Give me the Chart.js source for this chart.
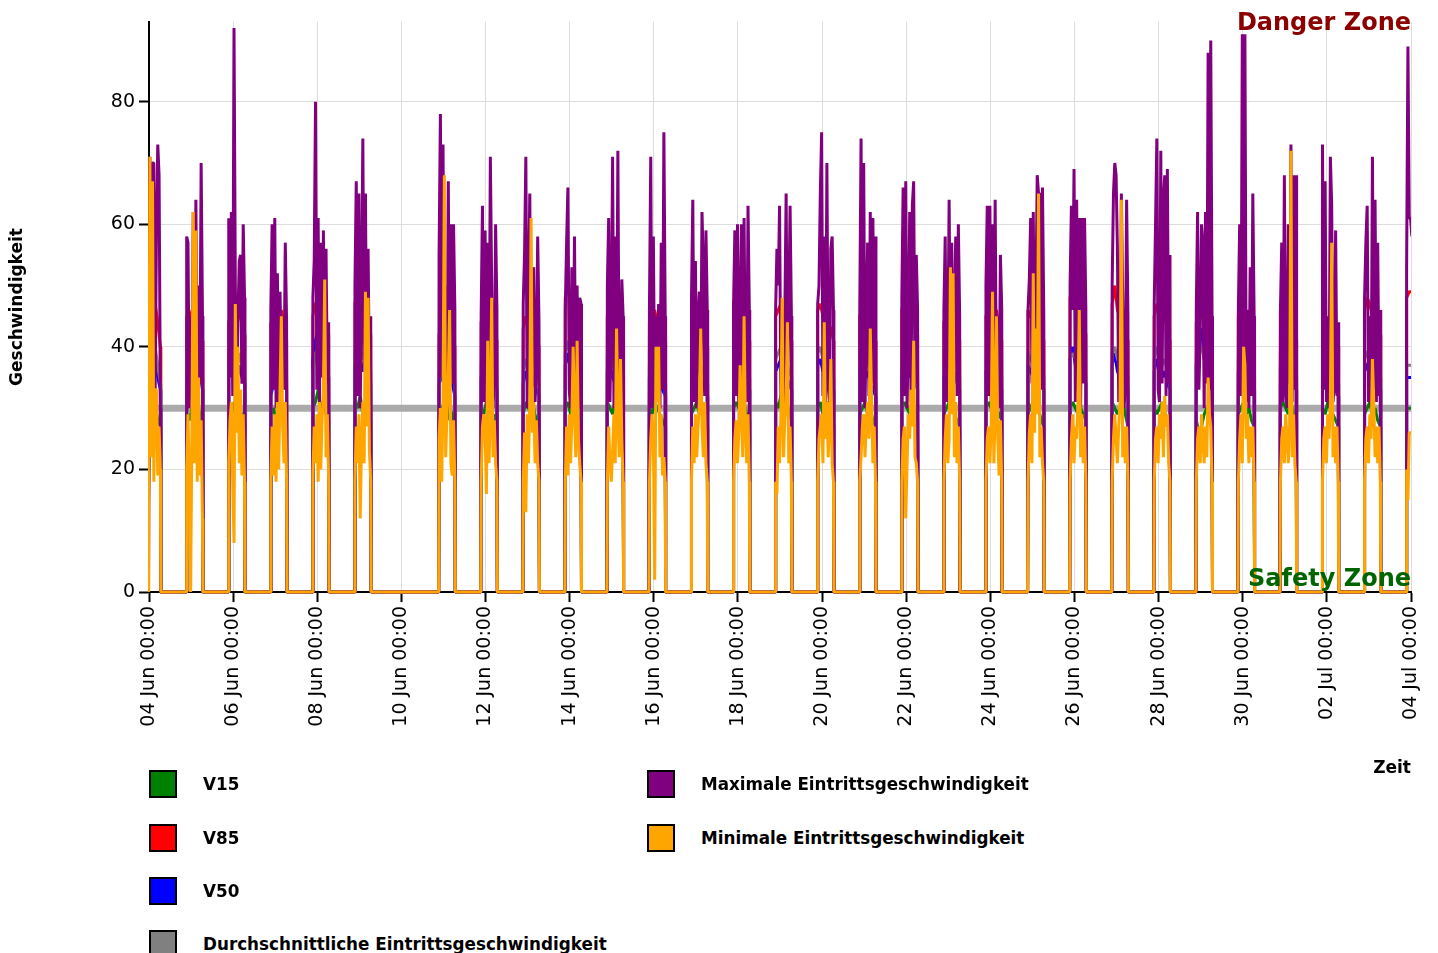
<!DOCTYPE html>
<html>
<head>
<meta charset="utf-8">
<script src="https://cdn.jsdelivr.net/npm/chart.js@4.4.1/dist/chart.umd.min.js"></script>
<style>
  html, body { margin: 0; padding: 0; background: #fff; overflow: hidden; }
  #wrap { position: relative; width: 1438px; height: 953px; }
  canvas { display: block; }
  .lg { position: absolute; display: flex; align-items: center; font: bold 16.8px "DejaVu Sans", sans-serif; color: #000; }
  .lg .sw { width: 28px; height: 28px; box-sizing: border-box; border: 2.5px solid #000; margin-right: 26px; flex: none; }
</style>
</head>
<body>
<div id="wrap">
  <canvas id="c" width="1438" height="782"></canvas>
  <div id="legend"></div>
</div>
<script>
// ---- data (hours since 04 Jun 00:00) ----
const tickLabels = ['04 Jun 00:00','06 Jun 00:00','08 Jun 00:00','10 Jun 00:00','12 Jun 00:00','14 Jun 00:00',
  '16 Jun 00:00','18 Jun 00:00','20 Jun 00:00','22 Jun 00:00','24 Jun 00:00','26 Jun 00:00','28 Jun 00:00',
  '30 Jun 00:00','02 Jul 00:00','04 Jul 00:00'];
const seriesNames = ['V15','V85','V50','Durchschnittliche Eintrittsgeschwindigkeit',
  'Maximale Eintrittsgeschwindigkeit','Minimale Eintrittsgeschwindigkeit'];
const seriesColors = ['#008000','#ff0000','#0000ff','#808080','#800080','#ffa500'];
const thresholdValue = 30;
const zoneLabels = { danger: 'Danger Zone', safety: 'Safety Zone' };
const NIGHT_VALUE = 0;
// sampling hours relative to each day's midnight
const slotHours = [-2.5,-1.75,-1.0,-0.25,0.5,1.25,2.0,2.75,3.5,4.25,5.0,5.75,6.5];
const coarseSlotHours = [-2.5,-1.0,0.5,2.0,3.5,5.0,6.5];

const maxValues = [
  [0,0,0,0,71,62,70,70,32,59,73,68,30],
  [58,57,30,45,33,62,36,64,31,50,34,70,45],
  [61,35,62,32,92,50,30,45,54,55,34,60,48],
  [46,60,33,61,30,52,31,49,36,42,33,57,44],
  [48,54,80,33,61,31,57,35,59,30,56,34,44],
  [50,67,32,65,30,48,74,36,65,31,56,33,45],
  null,
  [55,78,35,73,31,50,30,67,33,60,34,60,46],
  [45,63,31,59,30,57,33,71,50,30,35,60,46],
  [47,55,71,30,48,65,32,45,53,31,36,58,44],
  [46,57,66,33,30,53,34,58,31,50,30,48,47],
  [50,61,31,45,71,30,58,34,72,31,36,51,45],
  [46,71,30,58,31,45,32,47,30,57,33,75,45],
  [48,64,31,54,30,45,49,33,62,53,32,59,46],
  [47,59,32,60,30,45,60,33,61,35,31,63,46],
  [46,56,50,63,31,45,30,45,65,32,45,63,45],
  [47,50,65,75,32,58,30,70,34,31,56,58,46],
  [46,74,31,70,30,45,57,32,62,34,61,33,58],
  [48,66,32,67,30,42,62,31,63,67,34,55,46],
  [46,58,31,40,64,33,57,30,45,58,32,60,45],
  [50,63,32,63,30,60,34,64,31,45,30,55,46],
  [46,51,61,34,62,31,48,68,65,65,33,66,45],
  [50,63,46,69,31,64,33,61,30,61,34,61,46],
  [50,65,70,68,56,31,34,65,48,30,33,64,45],
  [47,60,74,33,31,72,34,64,68,32,69,34,55],
  [46,62,33,42,60,57,30,62,34,88,33,90,45],
  [46,60,32,91,33,91,31,46,30,53,32,65,45],
  [46,57,31,68,33,30,60,34,73,31,68,33,68],
  [73,33,67,31,45,30,71,63,31,34,59,32,44],
  [48,57,63,31,45,30,71,33,64,31,57,32,46],
  [53,89,61,61,58]
];
const minValues = [
  [0,0,0,0,71,22,67,18,33,33,19,27,20],
  [20,29,18,0,27,62,21,59,18,35,19,28,12],
  [21,28,31,18,8,47,26,40,21,33,19,29,18],
  [18,27,19,29,18,31,20,33,45,27,21,31,18],
  [19,27,21,29,18,31,20,28,33,51,22,29,18],
  [18,27,21,29,12,24,31,21,49,27,48,23,18],
  null,
  [25,30,18,31,68,22,29,35,46,21,19,28,18],
  [18,27,29,26,16,41,21,29,48,22,28,21,18],
  [18,26,13,29,21,31,61,26,31,21,28,21,18],
  [18,27,19,29,21,28,40,29,22,41,25,21,18],
  [18,27,21,18,23,29,21,43,29,22,38,25,18],
  [18,25,29,25,2,40,31,40,22,29,19,22,18],
  [18,27,21,29,22,27,31,43,27,22,31,21,18],
  [18,25,28,21,26,37,29,22,45,27,21,29,18],
  [18,16,27,21,29,48,22,28,31,44,21,27,18],
  [18,25,27,29,21,44,25,31,22,27,38,21,18],
  [18,22,27,29,22,28,31,25,43,31,21,27,18],
  [18,25,27,12,21,29,25,33,27,41,22,21,18],
  [18,25,29,21,25,53,29,52,22,31,21,27,18],
  [18,25,27,21,27,49,21,29,45,25,19,28,18],
  [18,26,29,21,52,26,43,29,65,22,27,21,18],
  [18,25,29,21,27,25,31,46,22,29,21,27,18],
  [18,25,29,25,21,27,31,64,22,27,21,27,18],
  [18,25,27,21,29,25,31,22,32,27,29,21,18],
  [18,25,27,21,29,25,21,27,22,35,29,27,18],
  [18,25,29,21,40,37,25,29,21,27,22,27,18],
  [18,25,27,21,29,25,21,27,72,22,29,21,18],
  [18,25,27,21,29,25,31,57,22,27,21,27,18],
  [18,25,27,21,29,25,38,31,22,27,21,27,18],
  [20,15,26,26,26]
];
const v15Values = [
  [0,0,30,29,31,28,27],[29,28,30,27,31,29,27],[30,29,31,28,30,29,28],[29,30,28,31,29,30,27],
  [30,31,33,30,31,29,28],[31,30,32,29,31,30,28],null,[29,30,31,28,30,29,27],
  [30,29,31,30,28,29,27],[29,31,30,29,30,28,27],[30,31,29,30,31,29,28],[31,30,29,31,30,28,27],
  [30,29,31,30,29,28,27],[29,30,31,29,30,28,27],[30,31,30,29,31,29,28],[31,30,32,30,29,30,28],
  [30,31,29,30,31,29,27],[29,30,31,29,30,28,27],[30,31,30,29,31,29,28],[29,30,31,30,29,28,27],
  [30,31,30,29,30,29,28],[31,30,29,31,30,28,27],[30,31,30,29,30,29,28],[31,30,29,30,31,29,27],
  [30,29,30,31,29,28,27],[28,26,27,29,30,28,27],[29,30,31,29,30,28,27],[30,31,30,29,31,29,28],
  [30,29,31,30,29,28,27],[29,30,31,29,30,28,27],[30,30,30]
];
const v85Values = [
  [0,0,46,45,47,44,40],[45,43,46,44,47,45,41],[44,46,45,43,46,44,42],[44,43,45,44,46,43,41],
  [45,47,48,45,46,44,42],[47,49,46,45,47,44,42],null,[42,43,44,42,43,41,40],
  [44,45,43,46,44,42,41],[43,45,44,46,43,42,40],[48,51,47,46,48,45,43],[45,46,44,43,45,43,41],
  [44,45,46,44,43,42,41],[45,44,46,45,43,42,40],[47,49,45,44,46,43,41],[45,46,47,44,45,43,41],
  [46,47,45,46,44,43,41],[45,46,44,45,43,42,41],[46,48,47,45,46,44,42],[44,45,46,44,45,43,41],
  [45,46,45,44,46,43,41],[46,45,44,46,45,43,41],[48,50,47,45,46,44,42],[47,50,46,45,46,43,41],
  [45,47,46,44,45,43,41],[44,45,46,44,45,43,41],[45,46,45,44,46,43,41],[46,47,45,44,46,43,41],
  [42,44,43,42,43,41,40],[46,48,47,45,46,44,42],[48,49,49]
];
const v50Values = [
  [0,0,37,36,38,35,33],[36,35,38,34,37,36,33],[35,37,36,34,37,35,34],[32,34,36,35,37,34,33],
  [38,41,43,39,40,37,35],[37,39,38,36,37,35,34],null,[34,35,36,33,35,34,32],
  [35,36,34,37,35,34,33],[34,36,35,37,34,33,32],[37,39,36,38,37,35,34],[36,37,35,34,36,34,33],
  [35,36,37,35,34,33,32],[36,35,37,36,34,33,32],[37,38,36,35,37,34,33],[36,37,38,35,36,34,33],
  [37,38,36,37,35,34,33],[36,37,35,36,34,33,32],[36,38,37,35,36,34,33],[35,36,37,35,36,34,33],
  [36,37,36,35,37,34,33],[37,36,35,37,36,34,33],[38,40,37,36,37,35,34],[37,39,36,35,36,34,33],
  [36,38,37,35,36,34,33],[37,41,43,38,40,36,34],[36,37,36,35,37,34,33],[37,38,36,35,37,34,33],
  [35,36,37,35,34,33,32],[36,37,38,36,37,35,33],[35,35,35]
];
const avgValues = [
  [0,0,39,38,40,37,34],[38,37,40,36,39,38,35],[37,39,38,36,39,37,35],[36,37,38,37,39,36,35],
  [36,39,40,38,39,36,35],[39,41,40,38,39,37,36],null,[36,37,38,35,37,36,34],
  [37,38,36,39,37,36,35],[36,38,37,39,36,35,34],[39,41,38,40,39,37,36],[38,39,37,36,38,36,35],
  [37,38,39,37,36,35,34],[38,37,39,38,36,35,34],[39,40,38,37,39,36,35],[38,39,40,37,38,36,35],
  [39,40,38,39,37,36,35],[38,39,37,38,36,35,34],[38,40,39,37,38,36,35],[37,38,39,37,38,36,35],
  [38,39,38,37,39,36,35],[39,38,37,39,38,36,35],[38,39,38,37,38,36,35],[39,40,38,37,38,36,35],
  [38,40,39,37,38,36,34],[38,39,40,38,39,37,35],[38,39,38,37,39,36,35],[39,40,38,37,39,36,35],
  [37,38,39,37,36,35,34],[38,39,40,38,39,37,35],[37,37,37]
];

// ---- build points: each day's readings, with the night-time zero readings around them ----
function buildSeries(dayValues, slots) {
  const pts = [];
  dayValues.forEach((vals, d) => {
    if (!vals) return;
    const mid = d * 24;
    pts.push({ x: mid + slots[0] - 0.25, y: NIGHT_VALUE });
    vals.forEach((v, i) => pts.push({ x: mid + slots[i], y: v }));
    pts.push({ x: mid + slots[vals.length - 1] + 0.25, y: NIGHT_VALUE });
  });
  return pts;
}

const seriesData = [
  buildSeries(v15Values, coarseSlotHours),
  buildSeries(v85Values, coarseSlotHours),
  buildSeries(v50Values, coarseSlotHours),
  buildSeries(avgValues, coarseSlotHours),
  buildSeries(maxValues, slotHours),
  buildSeries(minValues, slotHours)
];
const drawOrder = [6, 5, 4, 3, 2, 1];

const datasets = seriesNames.map((name, i) => ({
  label: name,
  data: seriesData[i],
  borderColor: seriesColors[i],
  backgroundColor: seriesColors[i],
  borderWidth: 3,
  pointRadius: 0,
  tension: 0,
  borderJoinStyle: 'bevel',
  fill: false,
  order: drawOrder[i],
  clip: { left: 1, top: 5, right: 0, bottom: 3 }
}));
datasets.push({
  label: 'threshold',
  data: [{ x: 0, y: thresholdValue }, { x: 720, y: thresholdValue }],
  borderColor: '#aaaaaa',
  borderWidth: 7,
  pointRadius: 0,
  order: 10
});

const zonePlugin = {
  id: 'zones',
  afterDatasetsDraw(chart) {
    const { ctx, chartArea } = chart;
    ctx.save();
    ctx.font = 'bold 24px "DejaVu Sans"';
    ctx.textAlign = 'right';
    ctx.textBaseline = 'middle';
    ctx.fillStyle = '#8b0000';
    ctx.fillText(zoneLabels.danger, chartArea.right, chartArea.top + 2);
    ctx.fillStyle = '#006400';
    ctx.fillText(zoneLabels.safety, chartArea.right, chartArea.bottom - 12);
    ctx.restore();
  }
};

Chart.defaults.font.family = '"DejaVu Sans", sans-serif';
Chart.defaults.color = '#000';

new Chart(document.getElementById('c'), {
  type: 'line',
  data: { datasets },
  plugins: [zonePlugin],
  options: {
    responsive: false,
    devicePixelRatio: 1,
    animation: false,
    events: [],
    layout: { padding: { left: 0, top: 22, right: 27, bottom: 0 } },
    plugins: { legend: { display: false }, tooltip: { enabled: false } },
    scales: {
      x: {
        type: 'linear',
        min: 0,
        max: 720,
        afterFit: (s) => { s.height = 190; },
        grid: { color: '#dddddd', lineWidth: 1, tickColor: '#000', tickWidth: 2, tickLength: 10 },
        border: { color: '#000', width: 2 },
        ticks: {
          stepSize: 48,
          autoSkip: false,
          minRotation: 90,
          maxRotation: 90,
          padding: 4,
          font: { size: 19 },
          color: '#000',
          callback: (v) => tickLabels[Math.round(v / 48)]
        },
        title: { display: true, text: 'Zeit', align: 'end', font: { size: 17, weight: 'bold' }, color: '#000', padding: { top: 0, bottom: 3 } }
      },
      y: {
        min: 0,
        max: 93,
        afterFit: (s) => { s.width = 149; },
        grid: { color: '#dddddd', lineWidth: 1, tickColor: '#000', tickWidth: 2, tickLength: 10 },
        border: { color: '#000', width: 2 },
        ticks: { stepSize: 20, includeBounds: false, padding: 4, font: { size: 19 }, color: '#000' },
        title: { display: true, text: 'Geschwindigkeit', font: { size: 17, weight: 'bold' }, color: '#000', padding: { top: 7, bottom: 0 } }
      }
    }
  }
});

// ---- legend (two columns, as in the reference) ----
const legendSlots = [
  { i: 0, left: 149, top: 770 }, { i: 1, left: 149, top: 824 }, { i: 2, left: 149, top: 877 }, { i: 3, left: 149, top: 930 },
  { i: 4, left: 647, top: 770 }, { i: 5, left: 647, top: 824 }
];
const legendEl = document.getElementById('legend');
legendSlots.forEach(({ i, left, top }) => {
  const item = document.createElement('div');
  item.className = 'lg';
  item.style.left = left + 'px';
  item.style.top = top + 'px';
  const sw = document.createElement('span');
  sw.className = 'sw';
  sw.style.background = seriesColors[i];
  const tx = document.createElement('span');
  tx.textContent = seriesNames[i];
  item.appendChild(sw);
  item.appendChild(tx);
  legendEl.appendChild(item);
});
</script>
</body>
</html>
